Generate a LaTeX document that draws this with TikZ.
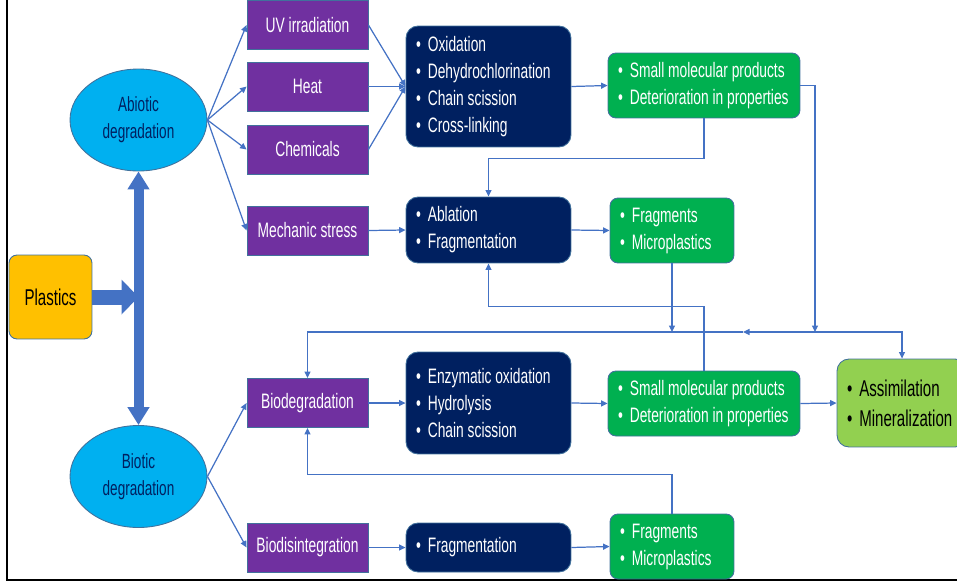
\documentclass[tikz,border=0pt]{standalone}
\usepackage{fontspec}
\setmainfont{Liberation Sans}[FakeStretch=0.66]
\usepackage{tikz}
\usetikzlibrary{positioning,arrows.meta,shapes.geometric}
\definecolor{lc}{HTML}{4472C4}
\definecolor{ec}{HTML}{41719C}
\definecolor{pu}{HTML}{7030A0}
\definecolor{nb}{HTML}{002060}
\definecolor{gn}{HTML}{00B050}
\definecolor{lg}{HTML}{92D050}
\definecolor{yl}{HTML}{FFC000}
\definecolor{cy}{HTML}{00B0F0}
\newcommand\bul{\textbullet\hspace{0.14cm}}

\begin{document}
\begin{tikzpicture}[x=0.02cm, y=-0.02cm,
  font=\fontsize{11.9}{15.4}\selectfont, >={Triangle[length=1.3mm,width=1.2mm]},
  bx/.style={draw=ec, line width=0.5pt, inner sep=0pt},
  pr/.style={bx, fill=pu, text=white, minimum width=2.42cm, minimum height=0.98cm},
  nv/.style={bx, fill=nb, text=white, rounded corners=0.24cm, inner xsep=0.2cm, text width=2.9cm, align=flush left},
  gr/.style={bx, fill=gn, text=white, rounded corners=0.16cm, inner xsep=0.2cm, align=flush left, minimum height=1.3cm},
  el/.style={bx, ellipse, fill=cy, text=nb, minimum width=2.74cm, minimum height=2.04cm, align=center, font=\fontsize{11.7}{15.4}\selectfont},
  ar/.style={->, draw=lc, line width=0.7pt}]
\useasboundingbox (0,0) rectangle (957,582);
\draw[line width=0.04cm] (7,0) -- (7,580) -- (957,580);

% sources
\node[bx, fill=yl, rounded corners=0.16cm, minimum width=1.66cm, minimum height=1.68cm, font=\fontsize{13}{16}\selectfont] (pl) at (50.5,297) {Plastics};
\node[el] (ab) at (138.5,120) {Abiotic\\degradation};
\node[el] (bt) at (138.5,476.5) {Biotic\\degradation};

% factors
\node[pr] (uv) at (307.5,25) {UV irradiation};
\node[pr] (ht) at (307.5,86.5) {Heat};
\node[pr] (ch) at (307.5,149.5) {Chemicals};
\node[pr] (ms) at (307.5,230.5) {Mechanic stress};
\node[pr] (bd) at (307.5,403) {Biodegradation};
\node[pr] (bi) at (307.5,547.5) {Biodisintegration};

% processes
\node[nv, minimum height=2.42cm] (ox) at (488.5,86.5) {\bul Oxidation\\ \bul Dehydrochlorination\\ \bul Chain scission\\ \bul Cross-linking};
\node[nv, minimum height=1.32cm] (abl) at (488.5,230) {\bul Ablation\\ \bul Fragmentation};
\node[nv, minimum height=2.04cm] (en) at (488.5,403) {\bul Enzymatic oxidation\\ \bul Hydrolysis\\ \bul Chain scission};
\node[nv, minimum height=0.98cm] (fr) at (488.5,547.5) {\bul Fragmentation};

% products
\node[gr, text width=3.44cm] (sm1) at (704,85.5) {\mbox{\bul Small molecular products}\\ \mbox{\bul Deterioration in properties}};
\node[gr, text width=2.08cm] (fm1) at (672,230.5) {\bul Fragments\\ \bul Microplastics};
\node[gr, text width=3.44cm] (sm2) at (704,403.5) {\mbox{\bul Small molecular products}\\ \mbox{\bul Deterioration in properties}};
\node[gr, text width=2.08cm] (fm2) at (672,546.5) {\bul Fragments\\ \bul Microplastics};
\node[bx, fill=lg, rounded corners=0.24cm, inner xsep=0.2cm, text width=2.2cm, align=flush left, minimum height=1.76cm, font=\fontsize{13}{17}\selectfont] (as) at (902,403) {\bul Assimilation\\ \bul Mineralization};

% fat arrows
\coordinate (hub) at (138.5,297);
\draw[lc, line width=0.3cm, -{Triangle[length=0.34cm,width=0.68cm]}] (pl.east) -- (hub);
\draw[lc, line width=0.2cm, {Triangle[length=0.36cm,width=0.42cm]}-{Triangle[length=0.36cm,width=0.42cm]}] (ab.south) -- (bt.north);

% abiotic branch
\draw[ar] (ab.east) -- (uv.west);
\draw[ar] (ab.east) -- (ht.west);
\draw[ar] (ab.east) -- (ch.west);
\draw[ar] (ab.east) -- (ms.west);
\draw[ar] (uv.east) -- (ox.west);
\draw[ar] (ht.east) -- (ox.west);
\draw[ar] (ch.east) -- (ox.west);
\draw[ar] (ms.east) -- (abl.west);
\draw[ar] (ox.east) -- (sm1.west);
\draw[ar] (abl.east) -- (fm1.west);
\draw[ar] (sm1.south) -- ++(0,40) -| (abl.north);

% biotic branch
\draw[ar] (bt.east) -- (bd.west);
\draw[ar] (bt.east) -- (bi.west);
\draw[ar] (bd.east) -- (en.west);
\draw[ar] (en.east) -- (sm2.west);
\draw[ar] (sm2.east) -- (as.west);
\draw[ar] (bi.east) -- (fr.west);
\draw[ar] (fr.east) -- (fm2.west);
\draw[ar] (sm2.north) -- ++(0,-64) -| (abl.south);
\draw[ar] (fm2.north) -- ++(0,-39) -| (bd.south);

% collecting line
\coordinate (bj) at (815,332);
\coordinate (bm) at (743,332);
\draw[ar] (sm1.east) -| (bj);
\draw[ar] (fm1.south) -- (fm1.south |- bj);
\draw[ar] (bj) -| (as.north);
\draw[ar] (bj) -- (bm);
\draw[ar] (bm) -| (bd.north);
\end{tikzpicture}
\end{document}
